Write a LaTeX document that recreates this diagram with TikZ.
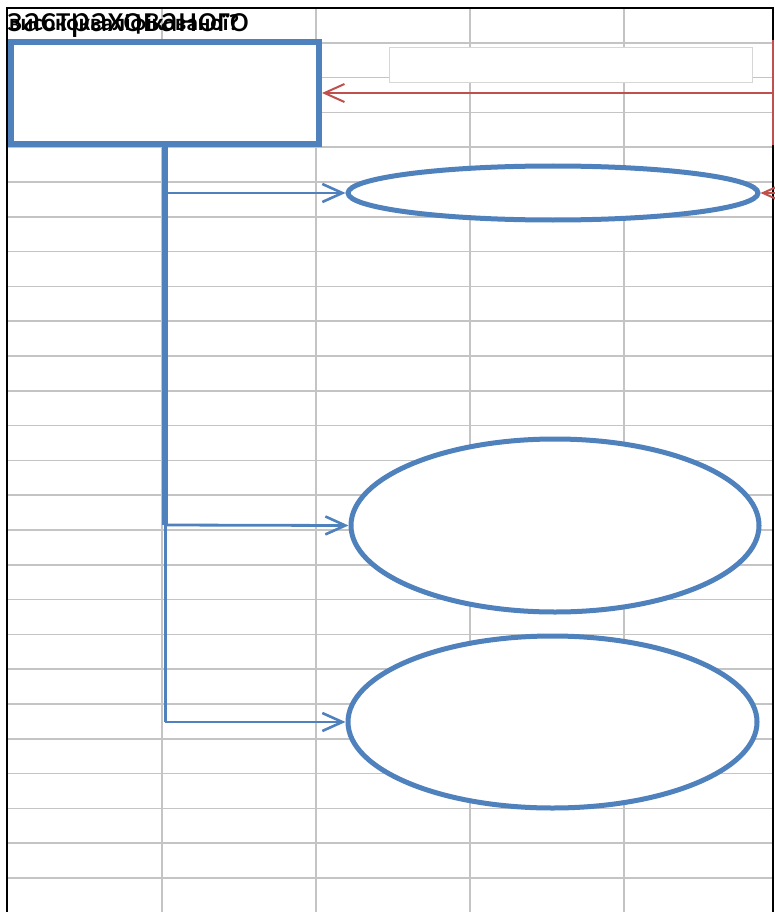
\documentclass[tikz,border=0pt]{standalone}
\usepackage{fontspec}
\setmainfont{Carlito}
\usetikzlibrary{shapes.geometric,arrows.meta}
\definecolor{ublue}{HTML}{4F81BD}
\definecolor{ured}{HTML}{C0504D}
\definecolor{ugrid}{HTML}{C4C4C4}
\begin{document}
\begin{tikzpicture}[x=1pt,y=-1pt,
  gridline/.style={draw=ugrid,line width=1.6pt},
  mainbox/.style={draw=ublue,line width=6pt,fill=white,rectangle,inner sep=0pt},
  oval/.style={draw=ublue,line width=5pt,fill=white,ellipse,inner sep=0pt},
  textbox/.style={draw=ugrid!70,line width=0.8pt,fill=white,rectangle,inner sep=0pt},
  bluearrow/.style={draw=ublue,line width=2.8pt,-{Straight Barb[length=20pt,width=18pt,line width=2.6pt]}},
  redarrow/.style={draw=ured,line width=2pt,-{Straight Barb[length=20pt,width=18pt,line width=2pt]}},
  trunk/.style={draw=ublue,line width=6pt},
  toptext/.style={anchor=base west,inner sep=0pt,text=black}
]
\useasboundingbox (0,0) rectangle (774,912);
\fill[white] (0,0) rectangle (774,912);
% grid
\foreach \k in {1,...,25} {\draw[gridline] (7,{8+34.8*\k}) -- (773,{8+34.8*\k});}
\foreach \x in {162,316,470,624} {\draw[gridline] (\x,8) -- (\x,912);}
% outer frame
\draw[black,line width=1.8pt] (7,912) -- (7,8) -- (773,8) -- (773,912);
% top overlapping texts (overlapping as in the reference)
\node[toptext,font=\fontsize{37}{38}\selectfont] (t1) at (7,32) {застрахованого};
\node[toptext,font=\fontsize{23}{24}\selectfont\bfseries] (t2) at (9,31) {висококваліфікованої?};
% shapes
\node[mainbox,minimum width=308pt,minimum height=102pt] (box) at (165,93) {};
\node[textbox,minimum width=363pt,minimum height=35pt] (tb) at (570.5,64.5) {};
\node[oval,minimum width=410pt,minimum height=54pt] (e1) at (553,193) {};
\node[oval,minimum width=408pt,minimum height=173pt] (e2) at (555,525.5) {};
\node[oval,minimum width=409pt,minimum height=172pt] (e3) at (552.5,722) {};
% connectors
\coordinate (j0) at (165,144);
\coordinate (j1) at (165,193);
\coordinate (j2) at (165,525);
\coordinate (j3) at (165,722);
\draw[trunk] (j0) -- (j2);
\draw[draw=ublue,line width=3pt] (j2) -- (j3);
\draw[bluearrow] (j1) -- (e1.west);
\draw[bluearrow] (j2) -- (e2.west);
\draw[bluearrow] (j3) -- (e3.west);
% red connectors
\coordinate (r0) at (773,40);
\coordinate (r1) at (773,93);
\coordinate (r2) at (773,145);
\coordinate (r3) at (775,193);
\draw[ured,line width=2.2pt] (r0) -- (r2);
\draw[redarrow] (r1) -- (box.east |- r1);
\draw[redarrow] (r3) -- (e1.east);
\end{tikzpicture}
\end{document}
